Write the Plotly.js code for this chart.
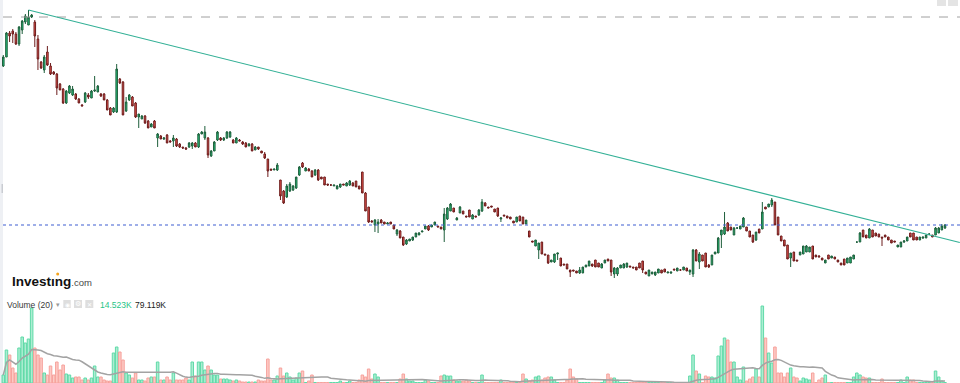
<!DOCTYPE html>
<html><head><meta charset="utf-8">
<script src="https://cdn.plot.ly/plotly-3.0.1.min.js"></script>
<style>html,body{margin:0;padding:0;background:#fff;}#chart{width:960px;height:383px;}</style>
</head><body><div id="chart"></div>
<script>
// ---------------- DATA (price units, one value per candle) ----------------
const open = [
234,243,267,269,266,256,270,278,275,283, 278,261,238,230,248,234,228,226,216,211,
197,207,205,206,201,195,198,205,202,209, 208,206,206,200,192,188,188,221,218,189,
200,203,197,183,181,184,179,173,179,162, 164,161,165,159,159,161,156,153,152,153,
154,157,153,166,162,162,144,149,160,162, 160,162,163,160,157,160,158,157,154,156,
150,153,149,146,141,131,130,130,120,109, 103,109,110,112,125,137,129,131,129,125,
130,123,123,116,115,114,111,113,116,114, 115,117,119,114,128,107,93,79,75,76,
80,78,76,78,75,66,69,63,56,59, 60,63,65,68,71,74,73,75,74,73,
70,81,89,92,80,87,89,84,90,81, 84,85,89,97,93,94,91,92,81,85,
84,83,79,78,84,83,76,69,59,54, 50,58,46,45,38,38,46,42,36,36,
30,30,29,27,27,33,34,36,40,37, 32,37,41,40,26,26,32,32,33,34,
33,33,37,39,28,24,26,25,27,30, 31,27,27,31,29,30,30,32,28,26,
50,38,45,47,35,35,46,47,65,66, 77,73,65,72,71,73,73,69,65,60,
71,71,93,93,95, 98,83,64,60,55,42,48,40,45,46,
48,48,54,45,44,42,37,45,42,43, 40,37,41,37,37,41,58,58,70,65,
62,70,67,66,63,65,63,60,59,53,53, 58,
59,67,67,63,60,62,62,66,65,65,67,70,72];
const high = [
245,268,269,271,268,274,280,286,290,286, 280,265,239,245,254,237,229,227,217,212,
210,215,214,207,202,196,208,207,210,224, 215,207,207,201,193,193,236,222,219,203,
206,204,198,186,185,185,180,177,180,167, 165,163,166,160,165,162,157,153,153,158,
158,158,167,169,174,163,150,159,169,163, 163,169,169,161,163,161,159,158,157,157,
154,153,149,148,141,131,131,137,120,110, 116,118,115,123,134,138,133,132,130,131,
131,123,123,116,116,115,115,116,116,118, 120,118,119,114,128,108,93,80,81,81,
81,78,78,78,75,71,70,63,61,61, 63,67,68,69,74,75,75,78,74,73,
92,93,97,92,83,94,89,84,90,86, 84,91,101,98,93,94,91,92,83,85,
84,83,79,83,84,83,80,69,59,60, 57,58,46,45,40,46,47,42,36,36,
30,30,29,33,33,35,39,36,40,37, 37,40,41,40,33,33,35,37,37,34,
33,33,37,39,28,30,28,28,31,30, 31,28,28,31,32,31,33,32,30,51,
51,48,45,47,36,45,48,63,70,88, 78,73,73,73,74,83,73,69,65,68,
71,98,93,96,102, 98,83,64,60,55,47,48,40,48,54,
55,53,54,45,45,42,40,45,44,43, 40,37,41,42,43,45,58,68,70,65,
72,70,67,66,63,65,63,60,59,55,58, 60,
63,67,67,63,63,63,65,66,65,73,73,76,76];
const low = [
233,243,258,257,255,254,266,276,275,282, 253,230,231,227,234,225,225,205,210,196,
196,206,204,200,197,194,197,201,202,208, 208,203,200,190,185,187,187,216,185,188,
199,194,182,172,181,176,172,173,172,153, 161,160,157,158,153,153,152,151,150,152,
151,153,152,166,160,142,143,149,159,159, 159,161,162,157,157,159,155,153,154,149,
150,150,147,141,123,129,130,129,100,96, 102,108,109,111,124,132,129,129,123,124,
119,121,115,114,114,114,111,112,115,114, 114,114,113,111,107,89,77,78,68,67,
77,76,76,76,71,64,62,54,55,59, 59,63,65,68,71,69,73,75,73,71,
58,80,89,88,80,87,86,83,83,81, 83,84,88,94,92,93,88,83,78,84,
82,81,77,78,79,76,76,63,58,54, 41,46,45,36,38,37,40,34,35,31,
23,29,27,26,27,33,34,33,33,33, 32,37,39,24,22,24,32,32,32,33,
32,30,32,27,26,24,26,24,27,27, 28,27,26,30,29,29,30,29,25,23,
39,31,39,33,32,35,46,47,52,65, 69,70,65,71,71,73,69,63,57,59,
67,71,91,93,93, 75,65,59,54,41,33,39,39,45,46,
48,48,41,43,43,40,37,41,42,41, 38,35,35,37,37,41,57,58,63,62,
62,63,64,63,54,63,60,57,58,53,53, 57,
59,63,60,60,60,61,62,65,63,65,67,70,71];
const close = [
243,267,264,266,256,273,279,284,283,285, 264,241,232,243,235,226,226,212,210,197,
209,214,211,201,197,194,207,203,209,210, 214,204,200,190,185,192,231,217,185,198,
205,194,183,186,184,177,172,176,172,166, 161,162,157,158,162,154,153,152,151,157,
157,153,166,168,168,145,149,158,168,160, 162,168,168,157,162,159,156,153,156,149,
153,151,147,142,129,130,131,135,104,97, 114,116,114,123,133,133,132,129,123,130,
120,121,115,115,115,115,114,116,115,117, 119,114,113,111,107,89,78,78,80,78,
77,76,77,76,71,70,62,55,60,61, 63,67,67,69,74,70,75,78,73,71,
86,92,96,88,82,93,86,83,83,85, 83,90,98,94,92,93,88,84,82,84,
82,81,77,83,79,76,80,63,58,60, 57,46,45,37,40,46,47,34,35,31,
28,29,27,30,33,35,39,34,33,33, 36,40,39,28,32,32,35,36,37,33,
32,30,32,30,26,30,28,28,31,27, 28,28,28,30,32,30,33,29,30,50,
39,46,39,33,33,45,48,62,70,73, 69,70,72,72,74,82,69,63,58,68,
67,88,91,96,100, 75,65,59,54,41,47,39,39,48,54,
54,53,41,43,43,40,40,41,44,41, 38,35,35,42,43,45,58,67,63,62,
71,63,64,63,62,63,60,57,58,55,58, 59,
63,63,60,60,63,63,65,66,63,72,72,74,75];
// volume, thousands
const volume = [
240,990,840,450,300,1050,1380,1200,1320,2250, 1050,840,750,300,240,510,240,630,390,540,
270,240,150,180,180,90,150,90,150,510, 180,180,90,60,60,900,1080,930,690,300,
240,150,300,90,90,60,150,180,180,630, 90,90,180,90,300,90,90,90,150,90,
630,210,630,630,390,510,390,240,240,120, 120,120,90,60,90,60,
30,30,30,30,30,90,60,60,720,90, 90,210,450,210,300,180,90,150,300,360,
15,60,240,15,15,15,15,15,15,15, 15,60,15,15,60,15,15,90,240,180,
420,120,270,180,15,15,15,15,15,15, 120,270,120,60,60,15,15,15,90,60,
15,15,15,210,240,210,210,90,60,60, 60,90,60,15,15,
15,240,15,15,15,15,15,90,15,15, 15,15,15,15,270,120,60,90,180,210,
90,150,180,180,90,15,15,15,90,420, 180,120,15,15,15,15,15,15,15,15,
90,270,150,150,90,15,15,15,15,15, 15,15,15,15,15,15,15,15,15,15,
15,15,15,15,15,15,15,210,840,360, 270,15,210,180,180,150,810,
1110,1350,1290,630,630,180,90,480,60,120, 180,420,180,2310,1350,900,600,
1080,300,300,180,300,450,180,150,60,150, 120,90,300,15,90,150,240,15,15,15,
15,15,15,15,15,180,300,240,180,150, 150,15,15,15,120,15,15,15,15,15,90,
15,
180,90,90,15,15,15,15,15,15,360,180,60,14.523];
const highLevel = 283;              // dashed reference level near the top
const trendIdx = [8, 303.7];        // candle index of the peak -> right edge
const trendPrice = [290, 57.5];     // price at those points
const volLabel = "14.523K";
const maLabel = "79.119K";
const maPeriod = 20;

// ---------------- BUILD ----------------
const W = 960, H = 383;
const PX0 = 3.3, STEP = (945 - 3.3) / (close.length - 1);
const idx = close.map((_, i) => i);
const up = close.map((c, i) => c >= open[i]);
const ma = volume.map((_, i) => {
  const w = volume.slice(Math.max(0, i - maPeriod + 1), i + 1);
  return w.reduce((a, b) => a + b, 0) / w.length;
});
const fx = x => x / W, fy = y => 1 - y / H;

const traces = [
  {type:'bar', x:idx, y:volume, yaxis:'y2', width:0.8, hoverinfo:'skip', showlegend:false,
   marker:{color:up.map(u => u ? 'rgba(70,214,156,0.45)' : 'rgba(250,135,125,0.45)'),
           line:{color:up.map(u => u ? '#5fdaa8' : '#f6a29c'), width:1}}},
  {type:'scatter', mode:'lines', x:idx, y:ma, yaxis:'y2', hoverinfo:'skip', showlegend:false,
   line:{color:'#a3a3a3', width:1.5}},
  {type:'candlestick', x:idx, open:open, high:high, low:low, close:close, xaxis:'x', yaxis:'y',
   whiskerwidth:0, hoverinfo:'skip', showlegend:false,
   increasing:{line:{color:'#1e5e3b', width:1}, fillcolor:'#22c67e'},
   decreasing:{line:{color:'#6c1c1c', width:1}, fillcolor:'#f0574f'}}
];

const lastClose = close[close.length - 1];
const F = 'Liberation Sans, Arial, sans-serif';
const layout = {
  width:W, height:H, margin:{l:0, r:0, t:0, b:0},
  paper_bgcolor:'#ffffff', plot_bgcolor:'#ffffff', showlegend:false, dragmode:false,
  xaxis:{range:[(0 - PX0) / STEP, (W - PX0) / STEP], visible:false, fixedrange:true,
         rangeslider:{visible:false}},
  yaxis:{range:[300 - H, 300], visible:false, fixedrange:true},
  yaxis2:{range:[0, H * 30], overlaying:'y', visible:false, fixedrange:true},
  shapes:[
    {type:'rect', xref:'paper', yref:'paper', x0:0, x1:fx(3), y0:0, y1:1, fillcolor:'#eef0f4', line:{width:0}, layer:'below'},
    {type:'rect', xref:'paper', yref:'paper', x0:fx(1.5), x1:fx(3), y0:fy(193), y1:fy(184), fillcolor:'#c9ccd2', line:{width:0}},
    {type:'rect', xref:'paper', yref:'paper', x0:fx(937), x1:fx(946), y0:fy(6), y1:1, fillcolor:'#e4e4e4', line:{width:0}},
    {type:'rect', xref:'paper', yref:'paper', x0:fx(948), x1:fx(958), y0:fy(6), y1:1, fillcolor:'#e4e4e4', line:{width:0}},
    {type:'line', xref:'paper', yref:'y', x0:fx(3), x1:1, y0:highLevel, y1:highLevel, line:{color:'#a0a0a0', width:1, dash:'dash'}},
    {type:'line', xref:'paper', yref:'y', x0:fx(3), x1:1, y0:lastClose, y1:lastClose, line:{color:'#3f5fd2', width:1.2, dash:'dot'}},
    {type:'line', xref:'x', yref:'y', x0:trendIdx[0], x1:trendIdx[1], y0:trendPrice[0], y1:trendPrice[1], line:{color:'#33b096', width:1.1}},
    {type:'rect', xref:'paper', yref:'paper', x0:fx(63.3), x1:fx(70.7), y0:fy(308), y1:fy(300), fillcolor:'#dedede', line:{width:0}},
    {type:'rect', xref:'paper', yref:'paper', x0:fx(74), x1:fx(82), y0:fy(308), y1:fy(300), fillcolor:'#dedede', line:{width:0}},
    {type:'rect', xref:'paper', yref:'paper', x0:fx(85.3), x1:fx(93.3), y0:fy(308), y1:fy(300), fillcolor:'#dedede', line:{width:0}},
    {type:'circle', xref:'paper', yref:'paper', x0:fx(56.2), x1:fx(59.2), y0:fy(275.5), y1:fy(272.5), fillcolor:'#f5a31a', line:{width:0}}
  ],
  annotations:[
    {xref:'paper', yref:'paper', x:fx(10), y:fy(281), xanchor:'left', yanchor:'middle', showarrow:false,
     text:'<b>Investıng</b><span style="font-size:9.5px;color:#474747">.com</span>', font:{family:F, size:13.5, color:'#111111'}},
    {xref:'paper', yref:'paper', x:fx(5), y:fy(305), xanchor:'left', yanchor:'middle', showarrow:false,
     text:'Volume (20)', font:{family:F, size:8.5, color:'#3a3a3a'}},
    {xref:'paper', yref:'paper', x:fx(54), y:fy(305), xanchor:'left', yanchor:'middle', showarrow:false,
     text:'▾', font:{family:'DejaVu Sans', size:7, color:'#9a9a9a'}},
    {xref:'paper', yref:'paper', x:fx(67), y:fy(304), xanchor:'center', yanchor:'middle', showarrow:false,
     text:'◉', font:{family:'DejaVu Sans', size:6, color:'#ffffff'}},
    {xref:'paper', yref:'paper', x:fx(78), y:fy(304), xanchor:'center', yanchor:'middle', showarrow:false,
     text:'⚙', font:{family:'DejaVu Sans', size:7, color:'#ffffff'}},
    {xref:'paper', yref:'paper', x:fx(89.3), y:fy(304), xanchor:'center', yanchor:'middle', showarrow:false,
     text:'✕', font:{family:'DejaVu Sans', size:6, color:'#ffffff'}},
    {xref:'paper', yref:'paper', x:fx(97.5), y:fy(305), xanchor:'left', yanchor:'middle', showarrow:false,
     text:volLabel, font:{family:F, size:8.5, color:'#26c486'}},
    {xref:'paper', yref:'paper', x:fx(133), y:fy(305), xanchor:'left', yanchor:'middle', showarrow:false,
     text:maLabel, font:{family:F, size:8.5, color:'#222222'}}
  ]
};
Plotly.newPlot('chart', traces, layout, {staticPlot:true, displayModeBar:false});
</script>
</body></html>
